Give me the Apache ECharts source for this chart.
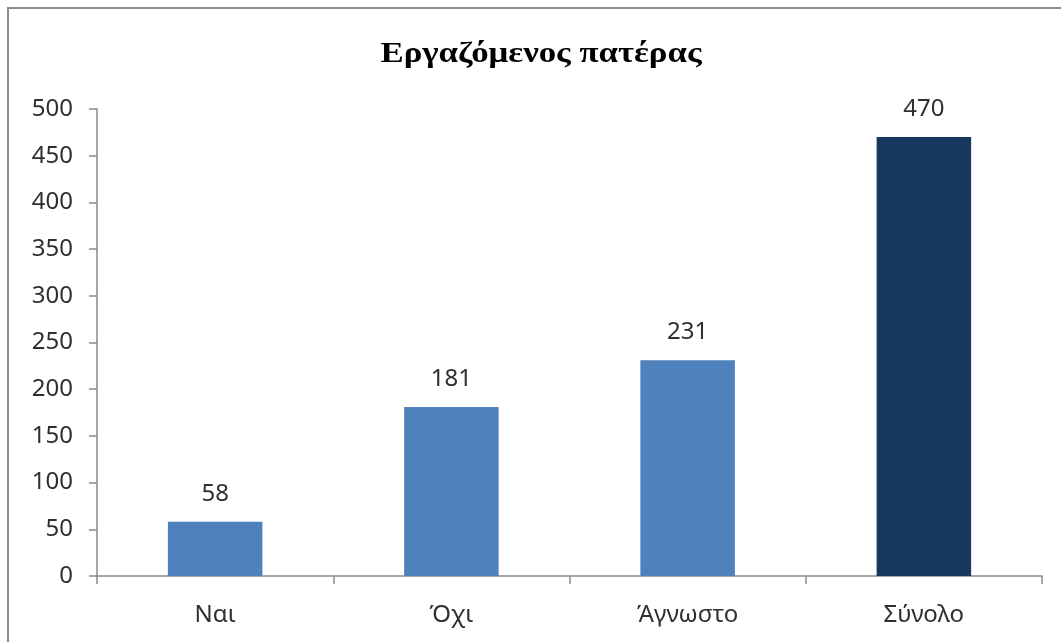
<!DOCTYPE html>
<html>
<head>
<meta charset="utf-8">
<style>
  html, body { margin: 0; padding: 0; background: #fff; }
  #chart { width: 1061px; height: 642px; }
</style>
<script src="https://cdn.jsdelivr.net/npm/echarts@6/dist/echarts.min.js"></script>
</head>
<body>
<div id="chart"></div>
<script>
// Working father: counts per answer, with the total
const categories = ['Ναι', 'Όχι', 'Άγνωστο', 'Σύνολο'];
const counts = [58, 181, 231, 470];
const barColors = ['#4F81BD', '#4F81BD', '#4F81BD', '#17375E'];
const chartTitle = 'Εργαζόμενος πατέρας';

const labelFont = '"Noto Sans", "Open Sans", sans-serif';
const axisGrey = '#8a8a8a';

const chart = echarts.init(document.getElementById('chart'), null, { renderer: 'canvas' });

chart.setOption({
  animation: false,
  backgroundColor: '#ffffff',
  graphic: [
    {
      // chart frame
      type: 'rect',
      shape: { x: 8, y: 8, width: 1100, height: 700 },
      style: { fill: 'none', stroke: '#8c8c8c', lineWidth: 2 },
      silent: true
    },
    {
      // title, set a little wide
      type: 'text',
      x: 541,
      y: 55,
      scaleX: 1.2,
      style: {
        text: chartTitle,
        align: 'center',
        verticalAlign: 'middle',
        fontFamily: '"Liberation Serif", "DejaVu Serif", serif',
        fontWeight: 'bold',
        fontSize: 29,
        fill: '#000000'
      },
      silent: true
    }
  ],
  grid: { left: 97, right: 19, top: 109, bottom: 66, containLabel: false },
  xAxis: {
    type: 'category',
    data: categories,
    axisLine: { lineStyle: { color: axisGrey, width: 1.5 } },
    axisTick: { show: true, length: 8, alignWithLabel: false, lineStyle: { color: axisGrey, width: 1.5 } },
    axisLabel: {
      margin: 27,
      fontFamily: labelFont,
      fontSize: 24,
      color: '#2f2f2f'
    }
  },
  yAxis: {
    type: 'value',
    min: 0,
    max: 500,
    interval: 50,
    splitLine: { show: false },
    axisLine: { show: true, lineStyle: { color: axisGrey, width: 1.5 } },
    axisTick: { show: true, length: 8, lineStyle: { color: axisGrey, width: 1.5 } },
    axisLabel: {
      margin: 24,
      fontFamily: labelFont,
      fontSize: 24,
      color: '#2f2f2f'
    }
  },
  series: [{
    type: 'bar',
    barWidth: '40%',
    data: counts.map((v, i) => ({ value: v, itemStyle: { color: barColors[i] } })),
    label: {
      show: true,
      position: 'top',
      distance: 16,
      fontFamily: labelFont,
      fontSize: 24,
      color: '#2f2f2f'
    }
  }]
});
</script>
</body>
</html>
